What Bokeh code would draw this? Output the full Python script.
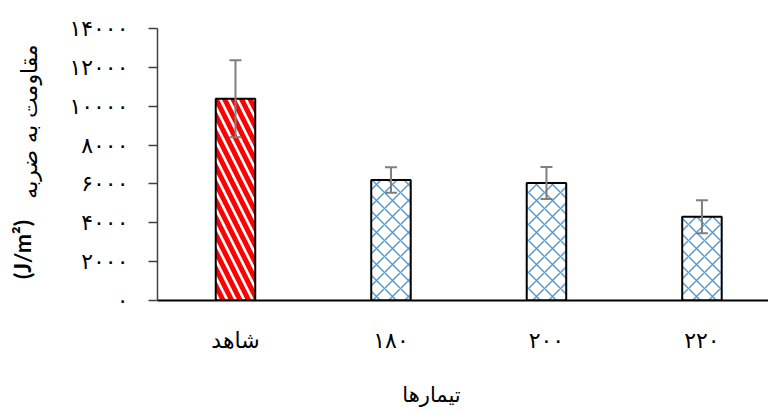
import math
from bokeh.plotting import figure
from bokeh.models import (ColumnDataSource, Range1d, FixedTicker, Label, Whisker, TeeHead)
from bokeh.embed import file_html
from bokeh.resources import INLINE

# ---- data ----
categories = ["شاهد", "۱۸۰", "۲۰۰", "۲۲۰"]
values = [10380, 6200, 6050, 4310]
errors = [1980, 660, 820, 850]
y_ticks = [0, 2000, 4000, 6000, 8000, 10000, 12000, 14000]
y_tick_labels = ["۰", "۲۰۰۰", "۴۰۰۰", "۶۰۰۰", "۸۰۰۰", "۱۰۰۰۰", "۱۲۰۰۰", "۱۴۰۰۰"]
x_title = "تیمارها"
y_title = "مقاومت به ضربه"
y_unit = "(J/m²)"

FA_FONT = "DejaVu Sans"

xs = list(range(len(categories)))
p = figure(width=768, height=412, output_backend="svg", toolbar_location=None,
           x_range=Range1d(-0.5016, 3.428), y_range=Range1d(0, 14000),
           min_border_left=157, min_border_right=0, min_border_top=28, min_border_bottom=112)
p.outline_line_color = None
p.grid.visible = False
p.background_fill_color = "white"

ctrl = {"x": xs[0:1], "top": values[0:1]}
trt = {"x": xs[1:], "top": values[1:]}
p.vbar(x="x", top="top", width=0.254, source=ColumnDataSource(ctrl),
       fill_color="white", line_color="black", line_width=2,
       hatch_pattern="\\", hatch_color="#FF0000", hatch_scale=17, hatch_weight=5)
p.vbar(x="x", top="top", width=0.254, source=ColumnDataSource(trt),
       fill_color="white", line_color="black", line_width=2,
       hatch_pattern="x", hatch_color="#5B9BD5", hatch_scale=16, hatch_weight=1.5)

err_src = ColumnDataSource({
    "x": xs,
    "upper": [v + e for v, e in zip(values, errors)],
    "lower": [v - e for v, e in zip(values, errors)],
})
w = Whisker(base="x", upper="upper", lower="lower", source=err_src, dimension="height",
            line_color="#7F7F7F", line_width=2,
            upper_head=TeeHead(size=12, line_color="#7F7F7F", line_width=2),
            lower_head=TeeHead(size=12, line_color="#7F7F7F", line_width=2),
            level="overlay")
p.add_layout(w)

# x axis
p.xaxis.ticker = FixedTicker(ticks=xs)
p.xaxis.major_label_overrides = {i: c for i, c in zip(xs, categories)}
p.xaxis.axis_line_color = "black"
p.xaxis.axis_line_width = 2
p.xaxis.major_tick_line_color = None
p.xaxis.minor_tick_line_color = None
p.xaxis.major_label_standoff = 21
p.xaxis.major_label_text_font = FA_FONT
p.xaxis.major_label_text_font_size = "22px"
p.xaxis.major_label_text_font_style = "normal"
p.xaxis.major_label_text_color = "black"

# y axis
p.yaxis.ticker = FixedTicker(ticks=y_ticks)
p.yaxis.major_label_overrides = {t: l for t, l in zip(y_ticks, y_tick_labels)}
p.yaxis.axis_line_color = "#404040"
p.yaxis.axis_line_width = 1.5
p.yaxis.major_tick_line_color = "#404040"
p.yaxis.major_tick_line_width = 1.5
p.yaxis.major_tick_out = 9
p.yaxis.major_tick_in = 0
p.yaxis.minor_tick_line_color = None
p.yaxis.major_label_standoff = 20
p.yaxis.major_label_text_font = FA_FONT
p.yaxis.major_label_text_font_size = "22px"
p.yaxis.major_label_text_color = "black"

# x title in its own side panel below the axis
p.add_layout(Label(x=274, y=-15, x_units="screen", y_units="screen", text=x_title,
                   text_align="center", text_baseline="middle",
                   text_font=FA_FONT, text_font_size="21px", text_color="black"), "below")
# y titles in side panels
p.add_layout(Label(x=-12, y=179, x_units="screen", y_units="screen", text=y_title,
                   angle=math.pi / 2, text_align="center", text_baseline="middle",
                   text_font=FA_FONT, text_font_size="22px", text_color="black"), "left")
p.add_layout(Label(x=8, y=51, x_units="screen", y_units="screen", text=y_unit,
                   angle=math.pi / 2, text_align="center", text_baseline="middle",
                   text_font="Lato", text_font_style="bold", text_font_size="23px",
                   text_color="black"), "left")

open("out.html", "w").write(file_html(p, INLINE))
